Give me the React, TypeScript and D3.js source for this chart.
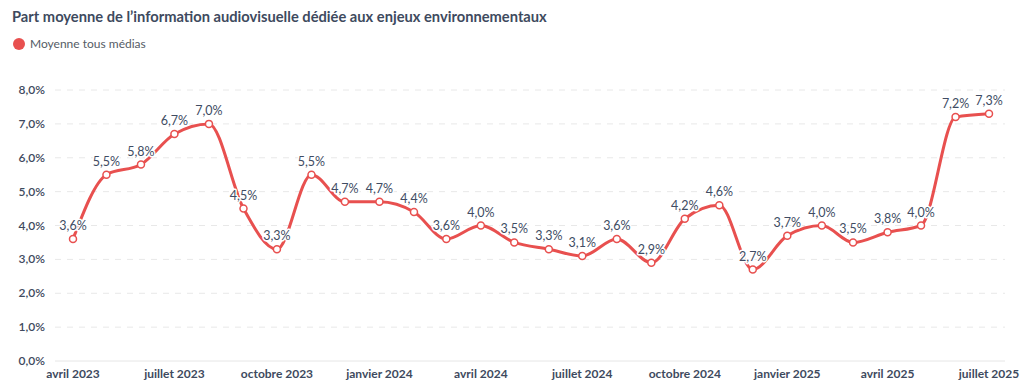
import { useEffect, useRef } from 'react';
import * as d3 from 'd3';

const months = [
  '2023-04', '2023-05', '2023-06', '2023-07', '2023-08', '2023-09', '2023-10',
  '2023-11', '2023-12', '2024-01', '2024-02', '2024-03', '2024-04', '2024-05',
  '2024-06', '2024-07', '2024-08', '2024-09', '2024-10', '2024-11', '2024-12',
  '2025-01', '2025-02', '2025-03', '2025-04', '2025-05', '2025-06', '2025-07',
];
const values = [
  3.6, 5.5, 5.8, 6.7, 7.0, 4.5, 3.3, 5.5, 4.7, 4.7, 4.4, 3.6, 4.0, 3.5,
  3.3, 3.1, 3.6, 2.9, 4.2, 4.6, 2.7, 3.7, 4.0, 3.5, 3.8, 4.0, 7.2, 7.3,
];
const xTicks = [
  '2023-04', '2023-07', '2023-10', '2024-01', '2024-04', '2024-07', '2024-10', '2025-01', '2025-04', '2025-07',
];
const yTicks = [0, 1, 2, 3, 4, 5, 6, 7, 8];
const monthNames = ['janvier', 'février', 'mars', 'avril', 'mai', 'juin', 'juillet', 'août', 'septembre', 'octobre', 'novembre', 'décembre'];

const title = 'Part moyenne de l’information audiovisuelle dédiée aux enjeux environnementaux';
const seriesName = 'Moyenne tous médias';

const W = 1024;
const H = 388;
const RED = '#e8504f';
const TEXT = '#3e4a5e';
const FONT = 'Lato, "Open Sans", sans-serif';

const parse = d3.timeParse('%Y-%m');
const fmt = (v: number) => v.toFixed(1).replace('.', ',') + '%';

export default function App() {
  const svgRef = useRef<SVGSVGElement>(null);

  useEffect(() => {
    if (!svgRef.current) return;
    const svg = d3.select(svgRef.current);
    svg.selectAll('*').remove();

    const data = months.map((m, i) => ({ date: parse(m)!, value: values[i] }));

    const x = d3.scaleTime()
      .domain([parse(months[0])!, parse(months[months.length - 1])!])
      .range([73, 989]);
    const y = d3.scaleLinear().domain([0, 8]).range([361, 90]);

    // Title and legend
    svg.append('text')
      .attr('x', 12).attr('y', 22)
      .text(title)
      .style('font-family', FONT).style('font-size', '14.7px').style('font-weight', 700)
      .style('fill', TEXT);
    svg.append('circle').attr('cx', 19).attr('cy', 44).attr('r', 6).attr('fill', RED);
    svg.append('text')
      .attr('x', 30).attr('y', 48)
      .text(seriesName)
      .style('font-family', FONT).style('font-size', '12px')
      .style('fill', '#555c66');

    // Grid
    const grid = svg.append('g');
    grid.selectAll('line')
      .data(yTicks)
      .join('line')
      .attr('x1', 55).attr('x2', 1005)
      .attr('y1', d => y(d)).attr('y2', d => y(d))
      .attr('stroke', d => (d === 0 ? '#e6e6e6' : '#e8e8e8'))
      .attr('stroke-width', 1)
      .attr('stroke-dasharray', d => (d === 0 ? null : '6,6'));

    // Y axis labels
    svg.append('g')
      .selectAll('text')
      .data(yTicks)
      .join('text')
      .attr('x', 45).attr('y', d => y(d) + 4)
      .attr('text-anchor', 'end')
      .text(d => fmt(d))
      .style('font-family', FONT).style('font-size', '12px').style('font-weight', 600)
      .style('fill', TEXT);

    // X axis labels
    svg.append('g')
      .selectAll('text')
      .data(xTicks)
      .join('text')
      .attr('x', d => x(parse(d)!))
      .attr('y', 378)
      .attr('text-anchor', 'middle')
      .text(d => {
        const dt = parse(d)!;
        return `${monthNames[dt.getMonth()]} ${dt.getFullYear()}`;
      })
      .style('font-family', FONT).style('font-size', '12px').style('font-weight', 700)
      .style('fill', TEXT);

    const line = d3.line<{ date: Date; value: number }>()
      .x(d => x(d.date))
      .y(d => y(d.value))
      .curve(d3.curveMonotoneX);

    svg.append('path')
      .datum(data)
      .attr('fill', 'none')
      .attr('stroke', RED)
      .attr('stroke-width', 3)
      .attr('stroke-linejoin', 'round')
      .attr('d', line);

    svg.append('g')
      .selectAll('circle')
      .data(data)
      .join('circle')
      .attr('cx', d => x(d.date))
      .attr('cy', d => y(d.value))
      .attr('r', 3.5)
      .attr('fill', '#ffffff')
      .attr('stroke', RED)
      .attr('stroke-width', 1.5);

    // Data labels
    svg.append('g')
      .selectAll('text')
      .data(data)
      .join('text')
      .attr('x', d => x(d.date))
      .attr('y', d => y(d.value) - 9)
      .attr('text-anchor', 'middle')
      .text(d => fmt(d.value))
      .style('font-family', FONT).style('font-size', '12.5px').style('font-weight', 400)
      .style('fill', '#404c63')
      .style('stroke', '#ffffff').style('stroke-width', 3)
      .style('stroke-linejoin', 'round')
      .style('paint-order', 'stroke');
  }, []);

  return (
    <svg
      ref={svgRef}
      width={W}
      height={H}
      style={{ position: 'absolute', left: 0, top: 0, background: '#ffffff' }}
    />
  );
}
